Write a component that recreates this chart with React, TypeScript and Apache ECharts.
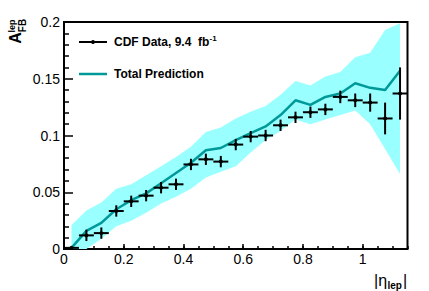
import React, { useEffect, useRef } from "react";
import * as echarts from "echarts";

// ---- data ----
const binCenters = [
  0.025, 0.075, 0.125, 0.175, 0.225, 0.275, 0.325, 0.375, 0.425, 0.475, 0.525, 0.575,
  0.625, 0.675, 0.725, 0.775, 0.825, 0.875, 0.925, 0.975, 1.025, 1.075, 1.125,
];
const binHalfWidth = 0.025;
const cdfValues = [
  0.001, 0.012, 0.014, 0.0335, 0.042, 0.047, 0.054, 0.057, 0.0745, 0.079, 0.077, 0.092,
  0.099, 0.1, 0.109, 0.116, 0.1205, 0.123, 0.134, 0.131, 0.129, 0.115, 0.137,
];
const cdfErrors = [
  0.001, 0.005, 0.005, 0.005, 0.005, 0.005, 0.005, 0.005, 0.005, 0.005, 0.005, 0.005,
  0.005, 0.005, 0.005, 0.005, 0.005, 0.005, 0.0055, 0.006, 0.008, 0.014, 0.023,
];
const predValues = [
  0.001, 0.016, 0.023, 0.035, 0.043, 0.049, 0.058, 0.067, 0.076, 0.087, 0.089, 0.096,
  0.102, 0.108, 0.118, 0.131, 0.127, 0.134, 0.137, 0.146, 0.142, 0.14, 0.157,
];
const bandLow = [
  0.0, 0.0, 0.009, 0.02, 0.025, 0.032, 0.04, 0.046, 0.053, 0.063, 0.068, 0.073,
  0.085, 0.096, 0.104, 0.114, 0.11, 0.114, 0.118, 0.122, 0.11, 0.088, 0.066,
];
const bandHigh = [
  0.021, 0.034, 0.041, 0.053, 0.057, 0.065, 0.073, 0.081, 0.09, 0.103, 0.107, 0.115,
  0.121, 0.126, 0.136, 0.148, 0.144, 0.152, 0.156, 0.169, 0.173, 0.193, 0.199,
];
const xMin = 0;
const xMax = 1.15;
const yMin = 0;
const yMax = 0.2;
const legendData = "CDF Data, 9.4  fb";
const legendDataSup = "-1";
const legendPred = "Total Prediction";

const FONT = "'Liberation Sans', Arial, Helvetica, sans-serif";

export default function App() {
  const ref = useRef<HTMLDivElement>(null);
  useEffect(() => {
    if (!ref.current) return;
    const chart = echarts.init(ref.current, undefined, { renderer: "svg" });
    const fmt = (v: number) => String(Number(v.toFixed(3)));
    const option: any = {
      animation: false,
      grid: {
        left: 64,
        right: 21.5,
        top: 22,
        bottom: 42,
        show: true,
        borderColor: "#000",
        borderWidth: 2,
        backgroundColor: "transparent",
      },
      xAxis: [
        {
          type: "value",
          min: xMin,
          max: xMax,
          interval: 0.2,
          position: "bottom",
          axisLine: { show: false },
          splitLine: { show: false },
          axisTick: { show: true, inside: true, length: 5, lineStyle: { color: "#000", width: 1.5 } },
          axisLabel: {
            show: true,
            margin: 3,
            showMaxLabel: false,
            color: "#000",
            fontFamily: FONT,
            fontSize: 14,
            formatter: fmt,
          },
        },
        {
          type: "value",
          min: xMin,
          max: xMax,
          interval: 0.05,
          position: "bottom",
          axisLine: { show: false },
          splitLine: { show: false },
          axisTick: { show: true, inside: true, length: 3, lineStyle: { color: "#000", width: 1.5 } },
          axisLabel: { show: false },
        },
      ],
      yAxis: [
        {
          type: "value",
          min: yMin,
          max: yMax,
          interval: 0.05,
          axisLine: { show: false },
          splitLine: { show: false },
          axisTick: { show: true, inside: true, length: 9, lineStyle: { color: "#000", width: 1.5 } },
          minorTick: { show: true, splitNumber: 5, length: 5, lineStyle: { color: "#000", width: 1.5 } },
          axisLabel: {
            show: true,
            margin: 4,
            color: "#000",
            fontFamily: FONT,
            fontSize: 14,
            formatter: fmt,
          },
        },
      ],
      series: [
        {
          type: "custom",
          name: "band",
          xAxisIndex: 0,
          silent: true,
          data: binCenters.map((x, i) => [x, bandLow[i], bandHigh[i]]),
          z: 1,
          renderItem: (params: any, api: any) => {
            if (params.dataIndex !== 0) return null;
            const upper = binCenters.map((x, i) => api.coord([x, bandHigh[i]]));
            const lower = binCenters.map((x, i) => api.coord([x, bandLow[i]])).reverse();
            return {
              type: "polygon",
              shape: { points: upper.concat(lower) },
              style: { fill: "#99ffff", stroke: "none" },
            };
          },
        },
        {
          type: "line",
          name: legendPred,
          xAxisIndex: 0,
          symbol: "none",
          lineStyle: { color: "#009999", width: 2.5 },
          data: binCenters.map((x, i) => [x, predValues[i]]),
          z: 2,
        },
        {
          type: "custom",
          name: "CDF Data",
          xAxisIndex: 0,
          data: binCenters.map((x, i) => [x, cdfValues[i], cdfErrors[i]]),
          z: 3,
          renderItem: (params: any, api: any) => {
            const x = api.value(0);
            const y = api.value(1);
            const e = api.value(2);
            const c = api.coord([x, y]);
            const top = api.coord([x, y + e]);
            const bot = api.coord([x, y - e]);
            const l = api.coord([x - binHalfWidth, y]);
            const r = api.coord([x + binHalfWidth, y]);
            const st = { stroke: "#000", lineWidth: 2 };
            return {
              type: "group",
              children: [
                { type: "line", shape: { x1: top[0], y1: top[1], x2: bot[0], y2: bot[1] }, style: st },
                { type: "line", shape: { x1: l[0], y1: l[1], x2: r[0], y2: r[1] }, style: st },
                { type: "circle", shape: { cx: c[0], cy: c[1], r: 2 }, style: { fill: "#000" } },
              ],
            };
          },
        },
      ],
      graphic: [
        // legend
        { type: "line", z: 10, shape: { x1: 79, y1: 42, x2: 107, y2: 42 }, style: { stroke: "#000", lineWidth: 2 } },
        { type: "circle", z: 10, shape: { cx: 93, cy: 42, r: 2 }, style: { fill: "#000" } },
        {
          type: "text",
          z: 10,
          x: 114,
          y: 42,
          style: { text: legendData, font: `bold 12px ${FONT}`, fill: "#000", textVerticalAlign: "middle" },
        },
        {
          type: "text",
          z: 10,
          x: 209.5,
          y: 38,
          style: { text: legendDataSup, font: `bold 8px ${FONT}`, fill: "#000", textVerticalAlign: "middle" },
        },
        { type: "line", z: 10, shape: { x1: 79, y1: 74, x2: 107, y2: 74 }, style: { stroke: "#009999", lineWidth: 2.5 } },
        {
          type: "text",
          z: 10,
          x: 114,
          y: 74,
          style: { text: legendPred, font: `bold 12px ${FONT}`, fill: "#000", textVerticalAlign: "middle" },
        },
        // y title  A_FB^lep
        {
          type: "text",
          x: 15,
          y: 38,
          rotation: Math.PI / 2,
          style: { text: "A", font: `bold 16px ${FONT}`, fill: "#000", textAlign: "center", textVerticalAlign: "middle" },
        },
        {
          type: "text",
          x: 22,
          y: 25.5,
          rotation: Math.PI / 2,
          style: { text: "FB", font: `bold 10px ${FONT}`, fill: "#000", textAlign: "center", textVerticalAlign: "middle" },
        },
        {
          type: "text",
          x: 11.5,
          y: 26,
          rotation: Math.PI / 2,
          style: { text: "lep", font: `bold 9px ${FONT}`, fill: "#000", textAlign: "center", textVerticalAlign: "middle" },
        },
        // x title |eta_lep|
        {
          type: "text",
          x: 374,
          y: 280,
          style: { text: "|η", font: `16px ${FONT}`, fill: "#000", textVerticalAlign: "middle" },
        },
        {
          type: "text",
          x: 387.5,
          y: 285,
          style: { text: "lep", font: `bold 10px ${FONT}`, fill: "#000", textVerticalAlign: "middle" },
        },
        {
          type: "text",
          x: 403,
          y: 280,
          style: { text: "|", font: `16px ${FONT}`, fill: "#000", textVerticalAlign: "middle" },
        },
      ],
    };
    chart.setOption(option);
    return () => chart.dispose();
  }, []);
  return <div ref={ref} style={{ width: 429, height: 291, position: "absolute", left: 0, top: 0 }} />;
}
